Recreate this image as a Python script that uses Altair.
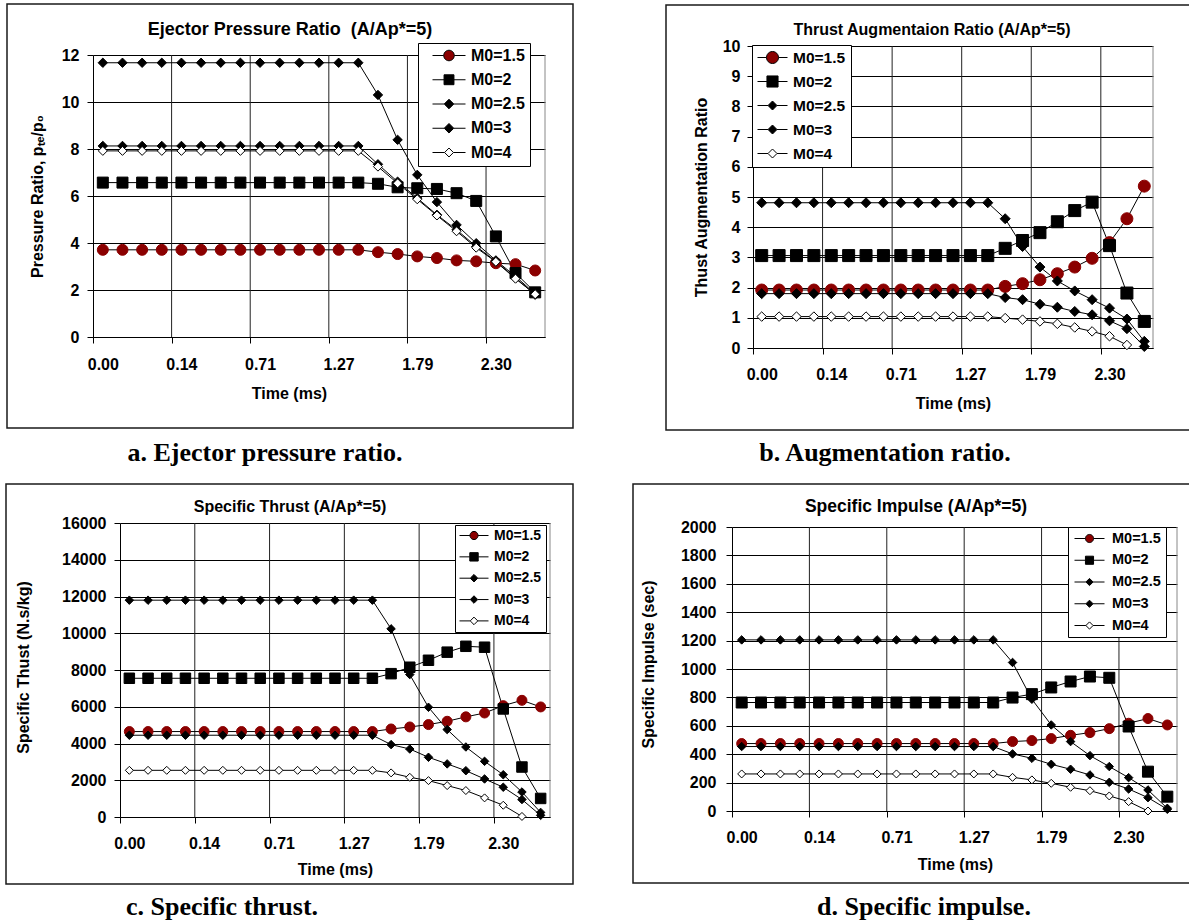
import json
import math
import altair as alt
import pandas as pd

# ---------------- data ----------------
series = ["M0=1.5", "M0=2", "M0=2.5", "M0=3", "M0=4"]
x_tick_labels = ["0.00", "0.14", "0.71", "1.27", "1.79", "2.30"]
x_title = "Time (ms)"

panel_titles = [
    "Ejector Pressure Ratio \u00a0(A/Ap*=5)",
    "Thrust Augmentaion Ratio (A/Ap*=5)",
    "Specific Thrust (A/Ap*=5)",
    "Specific Impulse (A/Ap*=5)",
]
y_titles = [
    "Pressure Ratio, p\u209c\u2091/p\u2080",
    "Thust Augmentation Ratio",
    "Specific Thust (N.s/kg)",
    "Specific Impulse (sec)",
]
captions = [
    "a. Ejector pressure ratio.",
    "b. Augmentation ratio.",
    "c. Specific thrust.",
    "d. Specific impulse.",
]

y_ticks_a = [0, 2, 4, 6, 8, 10, 12]
y_ticks_b = [0, 1, 2, 3, 4, 5, 6, 7, 8, 9, 10]
y_ticks_c = [0, 2000, 4000, 6000, 8000, 10000, 12000, 14000, 16000]
y_ticks_d = [0, 200, 400, 600, 800, 1000, 1200, 1400, 1600, 1800, 2000]

# a. Ejector pressure ratio
pr_m15 = [3.71, 3.71, 3.71, 3.71, 3.71, 3.71, 3.71, 3.71, 3.71, 3.71, 3.71, 3.71, 3.71, 3.71,
          3.61, 3.53, 3.43, 3.36, 3.26, 3.22, 3.14, 3.10, 2.83]
pr_m2 = [6.57, 6.57, 6.57, 6.57, 6.57, 6.57, 6.57, 6.57, 6.57, 6.57, 6.57, 6.57, 6.57, 6.57,
         6.52, 6.37, 6.33, 6.30, 6.12, 5.79, 4.28, 2.72, 1.90]
pr_m25 = [11.67, 11.67, 11.67, 11.67, 11.67, 11.67, 11.67, 11.67, 11.67, 11.67, 11.67, 11.67, 11.67, 11.67,
          10.30, 8.39, 6.90, 5.74, 4.77, 3.99, 3.26, 2.58, 1.83]
pr_m3 = [8.13, 8.13, 8.13, 8.13, 8.13, 8.13, 8.13, 8.13, 8.13, 8.13, 8.13, 8.13, 8.13, 8.13,
         7.35, 6.61, 5.91, 5.20, 4.56, 3.85, 3.22, 2.51, 1.80]
pr_m4 = [7.92, 7.92, 7.92, 7.92, 7.92, 7.92, 7.92, 7.92, 7.92, 7.92, 7.92, 7.92, 7.92, 7.92,
         7.25, 6.54, 5.86, 5.17, 4.50, 3.80, 3.20, 2.48, 1.82]

# b. Thrust augmentation ratio
ta_m15 = [1.92, 1.92, 1.92, 1.92, 1.92, 1.92, 1.92, 1.92, 1.92, 1.92, 1.92, 1.92, 1.92, 1.92,
          2.04, 2.13, 2.26, 2.46, 2.68, 2.97, 3.49, 4.28, 5.36]
ta_m2 = [3.06, 3.06, 3.06, 3.06, 3.06, 3.06, 3.06, 3.06, 3.06, 3.06, 3.06, 3.06, 3.06, 3.06,
         3.30, 3.56, 3.82, 4.18, 4.55, 4.83, 3.39, 1.82, 0.88]
ta_m25 = [4.81, 4.81, 4.81, 4.81, 4.81, 4.81, 4.81, 4.81, 4.81, 4.81, 4.81, 4.81, 4.81, 4.81,
          4.28, 3.36, 2.68, 2.22, 1.89, 1.60, 1.32, 0.96, 0.22]
ta_m3 = [1.80, 1.80, 1.80, 1.80, 1.80, 1.80, 1.80, 1.80, 1.80, 1.80, 1.80, 1.80, 1.80, 1.80,
         1.67, 1.60, 1.45, 1.35, 1.21, 1.10, 0.90, 0.64, 0.05]
ta_m4 = [1.04, 1.04, 1.04, 1.04, 1.04, 1.04, 1.04, 1.04, 1.04, 1.04, 1.04, 1.04, 1.04, 1.04,
         0.99, 0.94, 0.88, 0.80, 0.68, 0.55, 0.39, 0.10, None]

# c. Specific thrust
st_m15 = [4650, 4650, 4650, 4650, 4650, 4650, 4650, 4650, 4650, 4650, 4650, 4650, 4650, 4650,
          4790, 4900, 5030, 5210, 5450, 5660, 6060, 6350, 5990]
st_m2 = [7550, 7550, 7550, 7550, 7550, 7550, 7550, 7550, 7550, 7550, 7550, 7550, 7550, 7550,
         7800, 8150, 8530, 8970, 9290, 9240, 5880, 2720, 1010]
st_m25 = [11800, 11800, 11800, 11800, 11800, 11800, 11800, 11800, 11800, 11800, 11800, 11800, 11800, 11800,
          10240, 7750, 5970, 4760, 3810, 3030, 2300, 1360, 250]
st_m3 = [4450, 4450, 4450, 4450, 4450, 4450, 4450, 4450, 4450, 4450, 4450, 4450, 4450, 4450,
         3940, 3700, 3250, 2890, 2520, 2070, 1620, 950, 90]
st_m4 = [2540, 2540, 2540, 2540, 2540, 2540, 2540, 2540, 2540, 2540, 2540, 2540, 2540, 2540,
         2400, 2160, 1980, 1710, 1440, 1040, 640, 30, None]

# d. Specific impulse
si_m15 = [475, 475, 475, 475, 475, 475, 475, 475, 475, 475, 475, 475, 475, 475,
          489, 496, 510, 533, 552, 580, 618, 651, 606]
si_m2 = [764, 764, 764, 764, 764, 764, 764, 764, 764, 764, 764, 764, 764, 764,
         799, 823, 870, 912, 947, 938, 595, 277, 101]
si_m25 = [1205, 1205, 1205, 1205, 1205, 1205, 1205, 1205, 1205, 1205, 1205, 1205, 1205, 1205,
          1046, 787, 606, 489, 390, 313, 235, 148, 19]
si_m3 = [454, 454, 454, 454, 454, 454, 454, 454, 454, 454, 454, 454, 454, 454,
         402, 371, 329, 294, 254, 202, 155, 94, 12]
si_m4 = [261, 261, 261, 261, 261, 261, 261, 261, 261, 261, 261, 261, 261, 261,
         237, 219, 195, 167, 143, 106, 66, 0, None]

panel_values = [
    [pr_m15, pr_m2, pr_m25, pr_m3, pr_m4],
    [ta_m15, ta_m2, ta_m25, ta_m3, ta_m4],
    [st_m15, st_m2, st_m25, st_m3, st_m4],
    [si_m15, si_m2, si_m25, si_m3, si_m4],
]
panel_yticks = [y_ticks_a, y_ticks_b, y_ticks_c, y_ticks_d]

# ---------------- styles / layout ----------------
W, H = 1189, 920
SANS = "Liberation Sans, Arial, sans-serif"
SERIF = "Liberation Serif, Times New Roman, serif"
RED = "#8B0000"
TICK_FS = 16
marker_shapes = ["circle", "square", "diamond", "diamond", "diamond"]
marker_fills = [RED, "black", "black", "black", "white"]
marker_strokes = [RED, "black", "black", "black", "black"]
legend_kinds = ["circle", "square", "diamond", "diamond", "diamond"]

layouts = [
    dict(xr=[93, 545], yr=[337, 55], frame=(7, 573, 4, 428), title=(290, 30), tfs=18, xt=(289, 393),
         yt=(37, 196), cap=(265, 453), xlp=13, ylp=8, msize=[121, 121, 88, 88, 81],
         leg=dict(x=418, y=43, pad=5, symoff=9, laboff=5, rowpad=7.25, clip=15, fs=16, sym=1089,
                  r=[0.32, 0.30, 0.29, 0.29, 0.27])),
    dict(xr=[753, 1153], yr=[348, 46], frame=(666, 1196, 5, 430), title=(932, 30), tfs=16, xt=(953, 403),
         yt=(701, 197), cap=(885, 453), xlp=12, ylp=7, msize=[144, 144, 100, 100, 90],
         leg=dict(x=752, y=45, pad=5, symoff=0, laboff=5, rowpad=8, clip=15, fs=15.5, sym=900,
                  r=[0.40, 0.37, 0.30, 0.30, 0.30])),
    dict(xr=[120, 550], yr=[817, 523], frame=(6, 573, 484, 884), title=(290, 507), tfs=16, xt=(335, 869),
         yt=(23, 667), cap=(222, 907), xlp=12, ylp=8, msize=[100, 110, 72, 72, 64],
         leg=dict(x=455, y=525, pad=4, symoff=0, laboff=5, rowpad=6.35, clip=13, fs=14, sym=841,
                  r=[0.28, 0.29, 0.26, 0.26, 0.26])),
    dict(xr=[732, 1177], yr=[811, 527], frame=(633, 1196, 484, 883), title=(916, 507), tfs=17.5, xt=(955, 864),
         yt=(648, 664), cap=(924, 907), xlp=12, ylp=10, msize=[100, 121, 72, 72, 64],
         leg=dict(x=1068, y=527, pad=5, symoff=1, laboff=7, rowpad=6.75, clip=13, fs=14.5, sym=900,
                  r=[0.27, 0.27, 0.24, 0.24, 0.24])),
]


def legend_path(kind, r):
    line = f"M-1,0H{-r:.3f}M{r:.3f},0H1"
    if kind == "circle":
        pts = [(r * math.cos(2 * math.pi * k / 24), r * math.sin(2 * math.pi * k / 24)) for k in range(24)]
        poly = "M" + "L".join(f"{px:.3f},{py:.3f}" for px, py in pts) + "Z"
        return line + poly
    if kind == "square":
        return line + f"M{-r},{-r}H{r}V{r}H{-r}Z"
    return line + f"M{-r},0L0,{-r}L{r},0L0,{r}Z"


one_row = pd.DataFrame({"k": [0]})


def text_layer(txt, x, y, font, size):
    return alt.Chart(pd.DataFrame({"t": [txt]})).mark_text(
        font=font, fontSize=size, fontWeight="bold", align="center", baseline="middle", color="black"
    ).encode(text="t:N", x=alt.value(x), y=alt.value(y))


def frame_layer(fr):
    x0, x1, y0, y1 = fr
    return alt.Chart(one_row).mark_rect(filled=False, stroke="#1a1a1a", strokeWidth=1.5).encode(
        x=alt.value(x0), x2=alt.value(x1), y=alt.value(y0), y2=alt.value(y1)
    )


def build_panel(values, yticks, ytitle, L):
    rows = []
    for s, vals in zip(series, values):
        for i, v in enumerate(vals):
            if v is not None:
                rows.append({"i": i, "s": s, "v": v})
    df = pd.DataFrame(rows)
    n = len(values[0])
    cat = (L["xr"][1] - L["xr"][0]) / n
    bounds = [k - 0.5 for k in range(0, n, 4)][: len(x_tick_labels)]
    ydom = [yticks[0], yticks[-1]]

    xs = alt.Scale(domain=[-0.5, n - 0.5], range=L["xr"], nice=False, zero=False)
    ys = alt.Scale(domain=ydom, range=L["yr"], nice=False, zero=False)

    label_expr = f"{json.dumps(x_tick_labels)}[indexof({json.dumps(bounds)}, datum.value)]"
    xaxis = alt.Axis(
        orient="bottom", offset=L["yr"][0] - H, values=bounds, labelExpr=label_expr,
        labelOffset=cat / 2, grid=False, domainColor="black", domainWidth=1,
        tickColor="black", tickSize=6, tickWidth=1, labelPadding=L["xlp"],
        labelFont=SANS, labelFontSize=TICK_FS, labelFontWeight="bold", labelColor="black",
        labelFlush=False, labelOverlap=False, labelBound=False,
        title=x_title, titleFont=SANS, titleFontSize=16, titleFontWeight="bold", titleColor="black",
        titleX=L["xt"][0], titleY=L["xt"][1] - L["yr"][0], titleAlign="center", titleBaseline="middle",
    )
    yaxis = alt.Axis(
        orient="left", offset=-L["xr"][0], values=yticks, format="d", grid=True,
        gridColor="black", gridWidth=1, domainColor="black", domainWidth=1,
        tickColor="black", tickSize=6, tickWidth=1, labelPadding=L["ylp"],
        labelFont=SANS, labelFontSize=TICK_FS, labelFontWeight="bold", labelColor="black",
        labelOverlap=False, labelFlush=False,
        title=ytitle, titleFont=SANS, titleFontSize=16, titleFontWeight="bold", titleColor="black",
        titleX=L["yt"][0] - L["xr"][0], titleY=L["yt"][1], titleAngle=270,
        titleAlign="center", titleBaseline="middle",
    )

    def xenc(field):
        return alt.X(field, type="quantitative", scale=xs, axis=xaxis)

    def yenc(field):
        return alt.Y(field, type="quantitative", scale=ys, axis=yaxis)

    y_lo = alt.YDatum(ydom[0], type="quantitative", scale=ys, axis=yaxis)
    y_hi = alt.Y2Datum(ydom[1])

    vgrid = alt.Chart(pd.DataFrame({"b": bounds[1:]})).mark_rule(color="#222222", strokeWidth=1).encode(
        x=xenc("b"), y=y_lo, y2=y_hi
    )
    rborder = alt.Chart(pd.DataFrame({"b": [n - 0.5]})).mark_rule(color="#888888", strokeWidth=1).encode(
        x=xenc("b"), y=y_lo, y2=y_hi
    )

    base = alt.Chart(df)
    lines = base.mark_line(color="black", strokeWidth=1).encode(
        x=xenc("i"), y=yenc("v"), detail="s:N",
    )
    pts = []
    for k, s in enumerate(series):
        pts.append(
            base.transform_filter(alt.datum.s == s).mark_point(
                filled=True, opacity=1, shape=marker_shapes[k], fill=marker_fills[k],
                stroke=marker_strokes[k], strokeWidth=1, size=L["msize"][k],
            ).encode(x=xenc("i"), y=yenc("v"))
        )

    lg = L["leg"]
    paths = [legend_path(kd, r) for kd, r in zip(legend_kinds, lg["r"])]
    legend = alt.Legend(
        orient="none", legendX=lg["x"], legendY=lg["y"], title=None, padding=lg["pad"],
        rowPadding=lg["rowpad"], clipHeight=lg["clip"], symbolSize=lg["sym"], symbolOffset=lg["symoff"],
        labelOffset=lg["laboff"], symbolStrokeWidth=1,
        labelFont=SANS, labelFontSize=lg["fs"], labelFontWeight="bold", labelColor="black",
        strokeColor="black", fillColor="white", cornerRadius=0,
    )
    leg_layer = base.transform_filter("false").mark_point(
        filled=True, opacity=1, stroke="black", strokeWidth=1
    ).encode(
        x=xenc("i"), y=yenc("v"),
        shape=alt.Shape("s:N", scale=alt.Scale(domain=series, range=paths), legend=legend),
        fill=alt.Fill("s:N", scale=alt.Scale(domain=series, range=marker_fills), legend=legend),
    )
    return alt.layer(vgrid, rborder, lines, *pts, leg_layer)


frames = [frame_layer(L["frame"]) for L in layouts]
panels = [build_panel(v, yt, t, L) for v, yt, t, L in zip(panel_values, panel_yticks, y_titles, layouts)]
texts = []
for L, t, c in zip(layouts, panel_titles, captions):
    texts.append(text_layer(t, L["title"][0], L["title"][1], SANS, L["tfs"]))
    texts.append(text_layer(c, L["cap"][0], L["cap"][1], SERIF, 26))

chart = alt.layer(*frames, *panels, *texts).resolve_scale(
    x="independent", y="independent", shape="independent", fill="independent"
).properties(
    width=W, height=H, autosize=alt.AutoSizeParams(type="none"), padding=0, background="white"
).configure_view(stroke=None)

chart.save("out.html", embed_options={"renderer": "svg", "actions": False})
